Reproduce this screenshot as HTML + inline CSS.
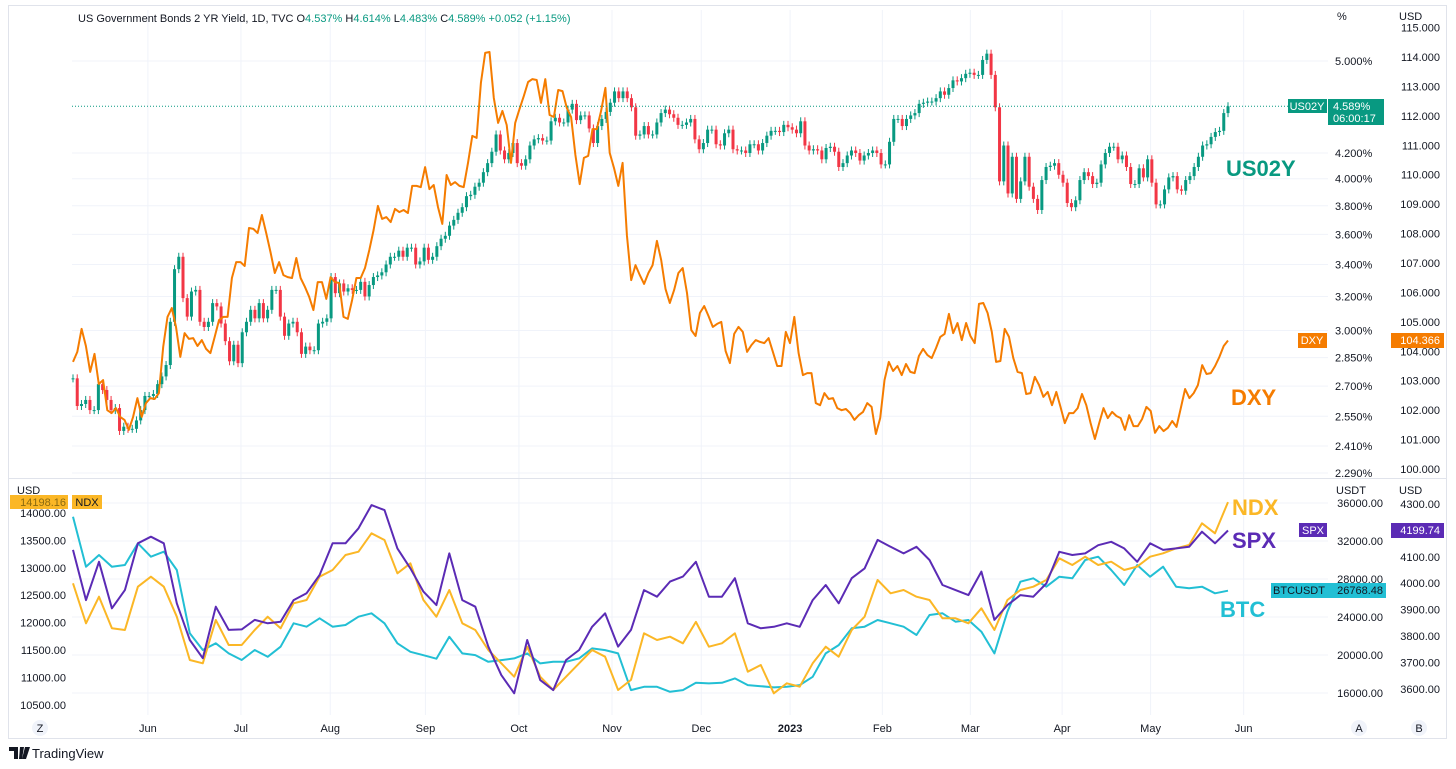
<!DOCTYPE html>
<html><head><meta charset="utf-8">
<style>
html,body{margin:0;padding:0;background:#fff;width:1456px;height:769px;overflow:hidden}
svg{display:block;font-family:"Liberation Sans",sans-serif}
</style></head>
<body>
<svg id="chart" width="1456" height="769" viewBox="0 0 1456 769" xmlns="http://www.w3.org/2000/svg">
<rect x="8.5" y="5.5" width="1438" height="733" fill="#fff" stroke="#e0e3eb"/>
<g id="grid"></g>
<line x1="9" y1="478.5" x2="1446" y2="478.5" stroke="#e0e3eb"/>
<g id="marks"></g>
<g id="axes" font-size="11" fill="#131722"></g>
<text x="78" y="22" font-size="11" fill="#131722">US Government Bonds 2 YR Yield, 1D, TVC  O<tspan fill="#089981">4.537%</tspan>  H<tspan fill="#089981">4.614%</tspan>  L<tspan fill="#089981">4.483%</tspan>  C<tspan fill="#089981">4.589%</tspan>  <tspan fill="#089981">+0.052 (+1.15%)</tspan></text>
<text x="1226" y="176" font-size="22" font-weight="bold" fill="#089981">US02Y</text>
<text x="1231" y="405" font-size="22" font-weight="bold" fill="#f57c00">DXY</text>
<text x="1232" y="515" font-size="22" font-weight="bold" fill="#fbb726">NDX</text>
<text x="1232" y="548" font-size="22" font-weight="bold" fill="#5b2bb5">SPX</text>
<text x="1220" y="617" font-size="22" font-weight="bold" fill="#22bfd4">BTC</text>
<g>
<path d="M9 747h9v12h-4v-8h-5z M20 747h4l-2 12h-3z M25 747h5l-4 12h-4z" fill="#131722"/>
<text x="32" y="758" font-size="13" fill="#131722">TradingView</text>
</g>
</svg>
<script>
// ---- data (arrays) ----
const dxyValues = [103.64,103.98,104.76,104.18,103.30,103.91,102.89,103.02,102.00,101.90,102.07,101.77,101.67,101.33,101.77,102.41,101.77,102.24,102.41,102.38,102.58,104.15,105.17,105.47,104.83,103.81,104.62,104.42,104.45,104.18,104.38,104.08,103.94,104.49,105.06,105.17,105.17,106.49,107.03,107.03,106.90,108.19,108.16,108.02,108.63,108.02,107.37,106.66,107.03,106.59,106.52,106.49,107.17,106.49,106.19,105.85,105.40,106.35,106.35,105.78,106.52,106.35,106.32,105.17,105.10,105.74,106.49,106.49,106.83,107.44,108.12,108.94,108.50,108.56,108.39,108.84,108.73,108.80,108.70,109.62,109.62,109.58,110.26,109.51,109.65,108.90,108.33,109.99,109.65,109.75,109.62,109.58,110.40,111.32,111.25,
113.12,114.14,114.17,112.61,111.76,112.17,111.69,110.40,111.76,112.23,112.67,113.15,113.25,113.22,112.44,113.25,112.03,111.96,112.88,112.84,112.27,111.96,110.67,109.68,110.57,110.64,111.55,111.55,112.17,112.95,110.74,110.23,109.62,110.40,107.95,106.42,106.93,106.59,106.29,106.66,106.93,107.75,107.10,106.12,105.64,106.08,106.66,106.83,105.98,104.72,104.52,105.30,105.54,105.20,104.83,104.93,105.00,104.01,103.60,104.59,104.83,104.66,103.98,104.21,104.38,104.32,104.28,104.45,103.98,103.50,103.50,104.66,104.28,105.17,103.94,103.19,103.26,103.26,102.24,102.17,102.58,102.38,102.41,102.07,102.00,102.04,101.90,101.67,101.83,101.94,102.24,102.11,101.19,101.73,
103.02,103.64,103.33,103.50,103.19,103.57,103.30,103.26,103.84,104.08,103.87,103.77,104.11,104.49,104.59,105.27,104.62,104.96,104.38,104.96,104.52,104.28,105.61,105.64,105.30,104.66,103.64,103.67,104.76,104.49,103.77,103.30,103.26,102.55,102.58,103.13,102.85,102.45,102.62,102.17,102.62,102.11,101.56,101.90,101.90,102.07,102.55,102.17,101.56,101.02,101.56,102.07,101.73,101.94,101.80,101.73,101.33,101.83,101.46,101.46,101.70,102.11,101.97,101.23,101.46,101.29,101.40,101.63,101.43,102.07,102.72,102.41,102.58,102.85,103.53,103.23,103.26,103.50,103.81,104.18,104.366];
const us02yCloses = [2.74,2.60,2.61,2.63,2.58,2.58,2.71,2.68,2.63,2.58,2.59,2.48,2.50,2.49,2.49,2.53,2.58,2.65,2.65,2.66,2.71,2.75,2.81,3.05,3.37,3.45,3.19,3.08,3.23,3.24,3.05,3.02,3.05,3.16,3.14,3.04,2.94,2.83,2.92,2.82,2.99,3.05,3.12,3.07,3.16,3.07,3.12,3.24,3.24,3.08,2.97,3.04,3.05,2.99,2.87,2.91,2.89,2.89,3.04,3.05,3.07,3.32,3.22,3.28,3.23,3.25,3.24,3.24,3.29,3.20,3.27,3.32,3.33,3.35,3.40,3.45,3.45,3.49,3.45,3.51,3.51,3.40,3.42,3.51,3.43,3.45,3.52,3.57,3.59,3.66,3.70,3.75,3.79,3.87,3.88,3.94,3.97,4.05,4.12,4.21,4.35,4.22,4.15,4.20,4.28,4.12,4.10,4.15,4.26,4.31,4.32,4.30,4.30,4.46,4.49,4.45,4.45,4.56,4.61,4.47,4.51,4.51,4.40,4.28,4.42,4.48,4.54,4.62,4.72,4.66,4.72,4.66,4.58,4.34,4.35,4.42,4.35,4.35,4.45,4.53,4.56,4.52,4.49,4.43,4.43,4.45,4.48,4.31,4.23,4.28,4.39,4.39,4.27,4.26,4.36,4.39,4.23,4.22,4.22,4.20,4.27,4.27,4.22,4.28,4.34,4.38,4.38,4.37,4.43,4.41,4.39,4.36,4.46,4.26,4.22,4.23,4.22,4.15,4.24,4.25,4.21,4.09,4.12,4.18,4.22,4.20,4.14,4.18,4.20,4.22,4.20,4.11,4.11,4.29,4.48,4.48,4.42,4.48,4.51,4.53,4.61,4.62,4.63,4.63,4.66,4.72,4.69,4.75,4.82,4.81,4.84,4.88,4.89,4.87,4.87,5.01,5.07,4.87,4.58,3.98,4.26,3.89,4.17,3.85,3.98,4.17,3.94,3.85,3.77,3.99,4.09,4.10,4.12,4.03,3.97,3.82,3.79,3.84,3.99,4.05,4.02,3.96,3.97,4.11,4.20,4.25,4.25,4.15,4.18,4.09,3.96,3.96,4.08,4.01,4.15,3.97,3.81,3.81,3.92,4.01,4.02,3.92,3.91,3.99,4.02,4.09,4.17,4.26,4.27,4.33,4.37,4.38,4.53,4.589];
const ndxValues = [12717,11987,12472,11896,11865,12655,12838,12655,12108,11317,11257,12047,11591,11591,11865,12108,11896,12352,12412,12838,12960,13234,13294,13629,13507,12899,13082,12412,12108,12595,11987,
11865,11500,11257,11013,11561,11013,10770,11013,11257,11500,11378,10770,10955,11804,11683,11743,11622,12013,11561,11622,11804,11104,11226,10709,10892,10830,11257,11561,11378,11865,
12108,12777,12534,12595,12472,12412,12078,12078,11987,12261,11865,12412,12595,12655,12777,13173,13051,13203,13051,13112,12960,13021,13203,13264,13355,13416,13812,13629,14198.16];
const spxValues = [4126,3936,4081,3905,3974,4151,4176,4151,3924,3785,3716,3911,3823,3825,3861,3848,3854,3936,3962,4031,4151,4151,4208,4296,4277,4132,4056,3968,3917,4113,3936,
3911,3760,3652,3583,3785,3633,3595,3709,3747,3835,3886,3760,3823,3974,3949,4006,4025,4081,3949,3949,4019,3848,3829,3835,3848,3835,3936,3993,3924,4019,
4056,4164,4138,4113,4138,4088,3993,3974,3955,4044,3861,3917,3955,3949,3999,4119,4107,4113,4144,4157,4132,4081,4151,4126,4132,4138,4195,4151,4199.74];
const btcValues = [34560,29294,30524,29294,29471,31756,30346,30873,28945,22279,20524,21227,20172,19470,20524,19815,20874,23332,22981,23858,22981,23153,24028,24385,23332,21227,20342,19974,19611,21920,20172,
19994,19289,19468,19646,20173,19120,19289,19289,19646,20700,20521,20173,16309,16657,16657,16130,16309,17077,17014,17077,17541,16835,16720,16593,16657,16835,17710,20173,21047,22806,
22975,23680,23333,22975,22100,24206,24385,23501,23680,22448,20173,24554,27713,28071,27186,28239,28071,29998,30346,28945,27365,29471,28239,29293,27186,27018,27186,26491,26768.48];
const monthLabels = ["Jun","Jul","Aug","Sep","Oct","Nov","Dec","2023","Feb","Mar","Apr","May","Jun"];
const monthIndex = [17.7,39.7,60.8,83.3,105.4,127.4,148.5,169.5,191.3,212.1,233.8,254.7,276.7];
const pctTicks = [5.0,4.2,4.0,3.8,3.6,3.4,3.2,3.0,2.85,2.7,2.55,2.41,2.29];
const dxyTicks = [115,114,113,112,111,110,109,108,107,106,105,104,103,102,101,100];
const ndxTicks = [14000,13500,13000,12500,12000,11500,11000,10500];
const btcTicks = [36000,32000,28000,24000,20000,16000];
const spxTicks = [4300,4200,4100,4000,3900,3800,3700,3600];

// ---- scales ----
const X0=73, X1=1228;
const xTop = i => X0 + i*(X1-X0)/(us02yCloses.length-1);
const xDxy = i => X0 + i*(X1-X0)/(dxyValues.length-1);
const xLow = i => X0 + i*(X1-X0)/(ndxValues.length-1);
const yPct = v => 61 + (Math.log(5) - Math.log(v))*527.6;
const yDxy = v => 57 + (114 - v)*29.43;
const yNdx = v => 513 + (14000 - v)/500*27.4;
const yBtc = v => 503 + (36000 - v)/4000*38;
const ySpx = v => 504 + (4300 - v)/100*26.4;

const NS="http://www.w3.org/2000/svg";
function mk(tag, attrs, parent){const e=document.createElementNS(NS,tag);for(const k in attrs)e.setAttribute(k,attrs[k]);parent.appendChild(e);return e;}
const grid=document.getElementById('grid'), marks=document.getElementById('marks'), axes=document.getElementById('axes');

// grid
pctTicks.forEach(t=>{const l=mk('line',{x1:72,x2:1328,y1:yPct(t),y2:yPct(t),stroke:'#f0f3fa'},grid);

});
btcTicks.forEach(t=>{const l=mk('line',{x1:72,x2:1328,y1:yBtc(t),y2:yBtc(t),stroke:'#f0f3fa'},grid);

});
monthIndex.forEach((m,k)=>{const x=X0+m*(X1-X0)/(us02yCloses.length-1);
const l=mk('line',{x1:x,x2:x,y1:10,y2:715,stroke:'#f0f3fa'},grid);


const t=mk('text',{x:x,y:732,'text-anchor':'middle','font-size':11,fill:'#131722','font-weight':monthLabels[k]==='2023'?'bold':'normal'},axes);
t.textContent=monthLabels[k];

});

// candles
us02yCloses.forEach((c,i)=>{const o=i>0?us02yCloses[i-1]:c;const up=c>=o;const col=up?'#089981':'#f23645';
const x=xTop(i);const y1=Math.min(yPct(o),yPct(c)),y2=Math.max(yPct(o),yPct(c));
const w=mk('line',{x1:x,x2:x,y1:y1-4,y2:y2+4,stroke:col,'stroke-width':1},marks);


const b=mk('rect',{x:x-1.5,y:y1,width:3,height:Math.max(1,y2-y1),fill:col},marks);

});

function line(vals,xf,yf,col,name){const d=vals.map((v,i)=>(i?'L':'M')+xf(i).toFixed(1)+' '+yf(v).toFixed(1)).join('');
const p=mk('path',{d:d,fill:'none',stroke:col,'stroke-width':2,'stroke-linejoin':'round'},marks);

}
line(dxyValues,xDxy,yDxy,'#f57c00','dxy-line');
line(btcValues,xLow,yBtc,'#22bfd4','btc-line');
line(ndxValues,xLow,yNdx,'#fbb726','ndx-line');
line(spxValues,xLow,ySpx,'#5b2bb5','spx-line');

// last price line
const dl=mk('line',{x1:72,x2:1288,y1:yPct(4.589),y2:yPct(4.589),stroke:'#089981','stroke-dasharray':'1 2'},marks);



// axes
function tickLabels(ticks,yf,x,fmt,anchor,name){ticks.forEach(t=>{const e=mk('text',{x:x,y:yf(t)+4,'text-anchor':anchor},axes);
e.textContent=fmt(t);

});}
tickLabels(pctTicks,yPct,1335,t=>t.toFixed(3)+'%','start','pct-axis-label');
tickLabels(dxyTicks,yDxy,1440,t=>t.toFixed(3),'end','dxy-axis-label');
tickLabels(ndxTicks,yNdx,66,t=>t.toFixed(2),'end','ndx-axis-label');
tickLabels(btcTicks,yBtc,1383,t=>t.toFixed(2),'end','btc-axis-label');
tickLabels(spxTicks,ySpx,1440,t=>t.toFixed(2),'end','spx-axis-label');
</script>
<div style="position:absolute;left:0;top:0;width:1456px;height:769px;pointer-events:none">
<svg width="1456" height="769" style="position:absolute;left:0;top:0" font-family="Liberation Sans, sans-serif" font-size="11">
<text x="1337" y="20" fill="#131722">%</text>
<text x="1399" y="20" fill="#131722">USD</text>
<text x="17" y="494" fill="#131722">USD</text>
<text x="1336" y="494" fill="#131722">USDT</text>
<text x="1399" y="494" fill="#131722">USD</text>
<g><rect x="1288" y="99" width="39" height="14" fill="#089981"/><text x="1307" y="110" text-anchor="middle" fill="#fff">US02Y</text></g>
<g><rect x="1328" y="99" width="56" height="26" fill="#089981"/><text x="1333" y="110" fill="#fff">4.589%</text><text x="1333" y="122" fill="#fff">06:00:17</text></g>
<g><rect x="1298" y="333" width="29" height="15" fill="#f57c00"/><text x="1312" y="344" text-anchor="middle" fill="#fff">DXY</text></g>
<g><rect x="1391" y="333" width="53" height="15" fill="#f57c00"/><text x="1440" y="344" text-anchor="end" fill="#fff">104.366</text></g>
<g><rect x="1299" y="523" width="28" height="14" fill="#5b2bb5"/><text x="1313" y="534" text-anchor="middle" fill="#fff">SPX</text></g>
<g><rect x="1391" y="523" width="53" height="15" fill="#5b2bb5"/><text x="1440" y="534" text-anchor="end" fill="#fff">4199.74</text></g>
<g><rect x="1271" y="583" width="57" height="15" fill="#22bfd4"/><text x="1299" y="594" text-anchor="middle" fill="#131722">BTCUSDT</text></g>
<g><rect x="1328" y="583" width="58" height="15" fill="#22bfd4"/><text x="1383" y="594" text-anchor="end" fill="#131722">26768.48</text></g>
<g><rect x="10" y="495" width="58" height="14" fill="#fbb726"/><text x="66" y="506" text-anchor="end" fill="#8a6a10">14198.16</text></g>
<g><rect x="72" y="495" width="30" height="14" fill="#fbb726"/><text x="87" y="506" text-anchor="middle" fill="#131722">NDX</text></g>
<g><circle cx="40" cy="728" r="8" fill="#f0f3fa"/><text x="40" y="732" text-anchor="middle" fill="#131722">Z</text></g>
<g><circle cx="1359" cy="728" r="8" fill="#f0f3fa"/><text x="1359" y="732" text-anchor="middle" fill="#131722">A</text></g>
<g><circle cx="1419" cy="728" r="8" fill="#f0f3fa"/><text x="1419" y="732" text-anchor="middle" fill="#131722">B</text></g>
</svg></div>
</body></html>
